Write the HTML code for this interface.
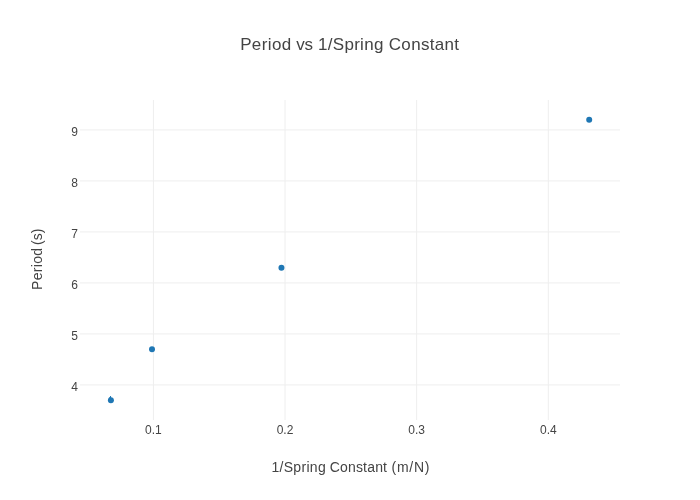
<!DOCTYPE html>
<html>
<head>
<meta charset="utf-8">
<title>Period vs 1/Spring Constant</title>
<style>
html,body{margin:0;padding:0;background:#fff;}
body{width:700px;height:500px;overflow:hidden;}
svg{display:block;}
text{font-family:"Liberation Sans",sans-serif;fill:#444;}
.g line{stroke:#eee;stroke-width:1;}
.t{font-size:12px;}
</style>
</head>
<body>
<svg width="700" height="500" viewBox="0 0 700 500">
<rect width="700" height="500" fill="#fff"/>
<g class="g">
<line x1="153.45" y1="100" x2="153.45" y2="420"/>
<line x1="285" y1="100" x2="285" y2="420"/>
<line x1="416.65" y1="100" x2="416.65" y2="420"/>
<line x1="548.3" y1="100" x2="548.3" y2="420"/>
<line x1="80" y1="129.9" x2="620" y2="129.9"/>
<line x1="80" y1="180.9" x2="620" y2="180.9"/>
<line x1="80" y1="231.9" x2="620" y2="231.9"/>
<line x1="80" y1="282.9" x2="620" y2="282.9"/>
<line x1="80" y1="333.9" x2="620" y2="333.9"/>
<line x1="80" y1="384.9" x2="620" y2="384.9"/>
</g>
<g fill="#1f77b4">
<path d="M110.1 396.1L111 396.1L111.2 398L109.2 399L108.9 397.6L109.9 397.2Z"/>
<circle cx="110.9" cy="400.2" r="3"/>
<circle cx="152" cy="349.2" r="3"/>
<circle cx="281.45" cy="267.75" r="3"/>
<circle cx="589.2" cy="119.7" r="3"/>
</g>
<g class="t" text-anchor="middle">
<text x="153.45" y="434">0.1</text>
<text x="285" y="434">0.2</text>
<text x="416.65" y="434">0.3</text>
<text x="548.3" y="434">0.4</text>
</g>
<g class="t" text-anchor="end">
<text id="y9" x="78" y="135.8">9</text>
<text id="y8" x="78" y="186.8">8</text>
<text id="y7" x="78" y="237.8">7</text>
<text id="y6" x="78" y="288.8">6</text>
<text id="y5" x="78" y="339.8">5</text>
<text id="y4" x="78" y="390.8">4</text>
</g>
<text id="title" y="49.8" font-size="17"><tspan x="240.15" letter-spacing="0.38">Period</tspan> <tspan x="296.35" letter-spacing="-0.4">vs</tspan> <tspan x="317.95" letter-spacing="0.31">1/Spring</tspan> <tspan x="388.8" letter-spacing="0.3">Constant</tspan></text>
<text id="xl" y="472" font-size="14"><tspan x="271.4" letter-spacing="0.31">1/Spring</tspan> <tspan x="329.7" letter-spacing="0.18">Constant</tspan> <tspan x="391.6" letter-spacing="0.7">(m/N)</tspan></text>
<text id="yl" transform="translate(41.8,0) rotate(-90)" font-size="14"><tspan x="-289.9" letter-spacing="0.3">Period</tspan> <tspan x="-245.1" letter-spacing="0.1">(s)</tspan></text>
</svg>
</body>
</html>
